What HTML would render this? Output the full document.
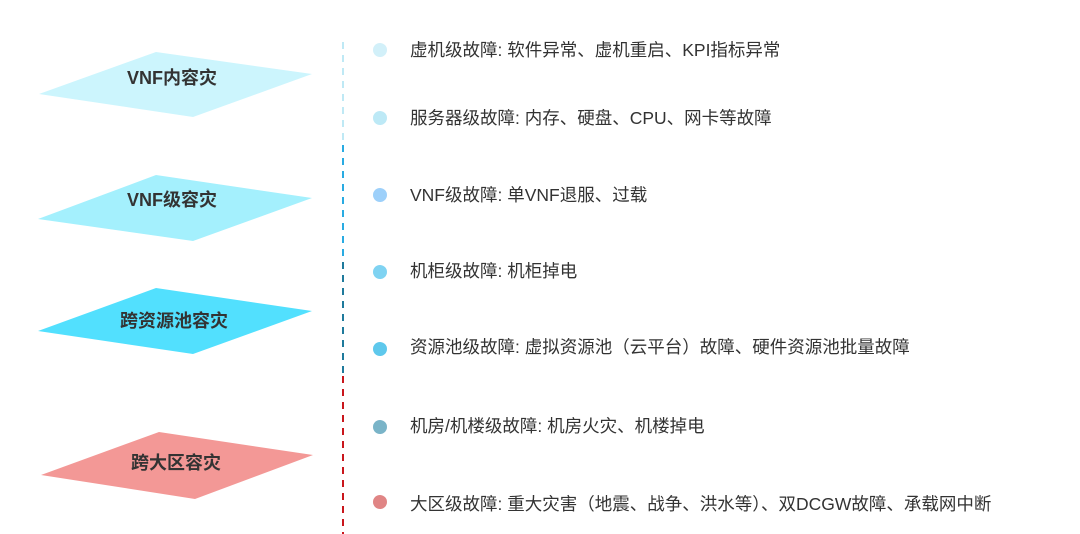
<!DOCTYPE html>
<html><head><meta charset="utf-8"><style>
body{margin:0;width:1080px;height:534px;background:#fff;overflow:hidden;position:relative;font-family:"Liberation Sans","Noto Sans CJK SC",sans-serif}
.t{position:absolute;left:410px;font-size:17.5px;color:#333;line-height:20px;white-space:nowrap}
.d{position:absolute;left:373px;width:14px;height:14px;border-radius:50%}
</style></head><body>
<svg width="1080" height="534" style="position:absolute;left:0;top:0">
<polygon points="156,52 312,74 193,117 39,94" fill="#ccf5fd"/>
<polygon points="156,175 312,198 193,241 38,219" fill="#a4f0fd"/>
<polygon points="156,288 312,311 193,354 38,331" fill="#52e0fe"/>
<polygon points="159,432 313,455 195,499 41,475" fill="#f39896"/>
<g font-family="Liberation Sans,Noto Sans CJK SC,sans-serif" font-weight="bold" font-size="18" fill="#333" text-anchor="middle">
<text x="172" y="84">VNF内容灾</text>
<text x="172" y="206">VNF级容灾</text>
<text x="174" y="327">跨资源池容灾</text>
<text x="176" y="469">跨大区容灾</text>
</g>
<line x1="343" y1="42" x2="343" y2="142" stroke="#bfe9f5" stroke-width="2" stroke-dasharray="7,6"/>
<line x1="343" y1="145" x2="343" y2="260" stroke="#29abe2" stroke-width="2" stroke-dasharray="7,6"/>
<line x1="343" y1="262" x2="343" y2="375" stroke="#1f7a9c" stroke-width="2" stroke-dasharray="7,6"/>
<line x1="343" y1="376" x2="343" y2="534" stroke="#c9161c" stroke-width="2" stroke-dasharray="7,6"/>
</svg>
<div class="d" style="top:43px;background:#d2f0f9"></div><div class="t" style="top:40px">虚机级故障: 软件异常、虚机重启、KPI指标异常</div>
<div class="d" style="top:111px;background:#bde9f6"></div><div class="t" style="top:108px">服务器级故障: 内存、硬盘、CPU、网卡等故障</div>
<div class="d" style="top:188px;background:#9dd0fa"></div><div class="t" style="top:185px">VNF级故障: 单VNF退服、过载</div>
<div class="d" style="top:265px;background:#7fd3f2"></div><div class="t" style="top:261px">机柜级故障: 机柜掉电</div>
<div class="d" style="top:342px;background:#5ec8ec"></div><div class="t" style="top:337px">资源池级故障: 虚拟资源池（云平台）故障、硬件资源池批量故障</div>
<div class="d" style="top:420px;background:#7ab4c8"></div><div class="t" style="top:416px">机房/机楼级故障: 机房火灾、机楼掉电</div>
<div class="d" style="top:495px;background:#e08585"></div><div class="t" style="top:494px">大区级故障: 重大灾害（地震、战争、洪水等）、双DCGW故障、承载网中断</div>
</body></html>
